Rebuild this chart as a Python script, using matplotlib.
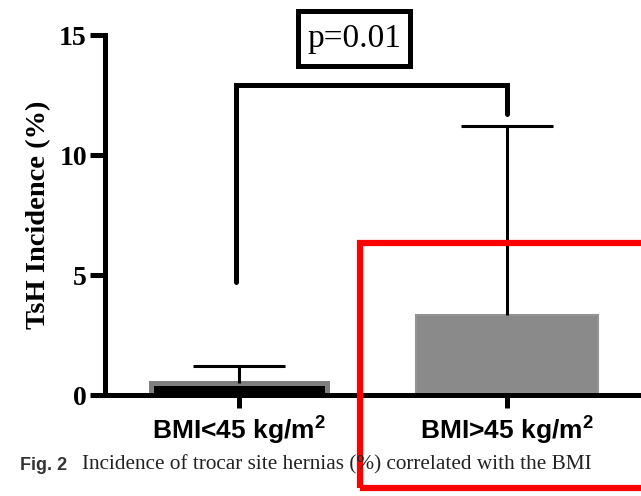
import matplotlib
matplotlib.use('Agg')
import matplotlib.pyplot as plt
from matplotlib.patches import Rectangle

# ── Data ───────────────────────────────────────────────────────────────────
groups    = [r'BMI<45 kg/m$^2$', r'BMI>45 kg/m$^2$']
incidence = [0.52, 3.33]     # TsH incidence (%)
sd_upper  = [0.68, 7.87]     # upper error bar length
y_ticks   = [0, 5, 10, 15]
p_label   = 'p=0.01'
bracket_y    = 12.9
bracket_ends = [4.7, 11.7]   # lower ends of the bracket legs

plt.rcParams['mathtext.fontset'] = 'custom'
plt.rcParams['mathtext.rm'] = 'Liberation Sans:bold'
plt.rcParams['mathtext.bf'] = 'Liberation Sans:bold'

fig = plt.figure(figsize=(6.41, 4.96), dpi=100)
ax = fig.add_axes([0.1638, 0.2036, 0.8362, 0.7258])

x = [0, 1]
ax.bar(x[0], incidence[0], width=0.66, color='black', edgecolor='#7f7f7f',
       linewidth=3.6, zorder=2)
ax.bar(x[1], incidence[1], width=0.68, color='#8a8a8a', edgecolor='#949494',
       linewidth=1.5, zorder=2)

# upper-only error bars
tops = [v + e for v, e in zip(incidence, sd_upper)]
ax.vlines(x, incidence, tops, color='black', lw=2.2, zorder=3)
ax.hlines(tops, [xi - 0.17 for xi in x], [xi + 0.17 for xi in x],
          color='black', lw=2.2, zorder=3)

# significance bracket
ax.plot([x[0] - 0.01, x[0] - 0.01, x[1], x[1]],
        [bracket_ends[0], bracket_y, bracket_y, bracket_ends[1]],
        color='black', lw=3.6, solid_capstyle='round', solid_joinstyle='miter',
        clip_on=False, zorder=4)

# p-value box
ax.add_patch(Rectangle((0.222, 13.7), 0.415, 2.3, fill=False, ec='black',
                       lw=3.6, clip_on=False, zorder=4))
ax.text(0.43, 14.85, p_label, ha='center', va='center', fontsize=24,
        family='Liberation Serif', clip_on=False)

ax.set_xlim(-0.5, 1.5)
ax.set_ylim(0, 15)
ax.set_yticks(y_ticks)
ax.set_yticklabels([str(t) for t in y_ticks], family='Liberation Serif',
                   fontweight='bold', fontsize=20)
ax.set_xticks(x)
ax.set_xticklabels(groups, family='Liberation Sans', fontweight='bold',
                   fontsize=19)
ax.tick_params(axis='both', direction='out', length=11, width=3.6, pad=2)
ax.tick_params(axis='x', length=9, pad=4)
for side in ['top', 'right']:
    ax.spines[side].set_visible(False)
for side in ['left', 'bottom']:
    ax.spines[side].set_linewidth(3.6)
    ax.spines[side].set_zorder(5)

ax.set_ylabel('TsH Incidence (%)', family='Liberation Serif',
              fontweight='bold', fontsize=20.5, labelpad=6)

# caption
fig.text(20 / 641, 1 - 465 / 496, 'Fig. 2', family='Liberation Sans',
         fontweight='bold', fontsize=13, color='#333333', va='center')
fig.text(82 / 641, 1 - 465 / 496,
         'Incidence of trocar site hernias (%) correlated with the BMI',
         family='Liberation Serif', fontsize=15.3, color='#222222', va='center')

# red highlight frame
fig.patches.append(Rectangle((360 / 641, 8 / 496), 0.5, 245 / 496,
                             transform=fig.transFigure, fill=False,
                             edgecolor='#ff0000', linewidth=4.5))

plt.savefig('out.png', dpi=100)
